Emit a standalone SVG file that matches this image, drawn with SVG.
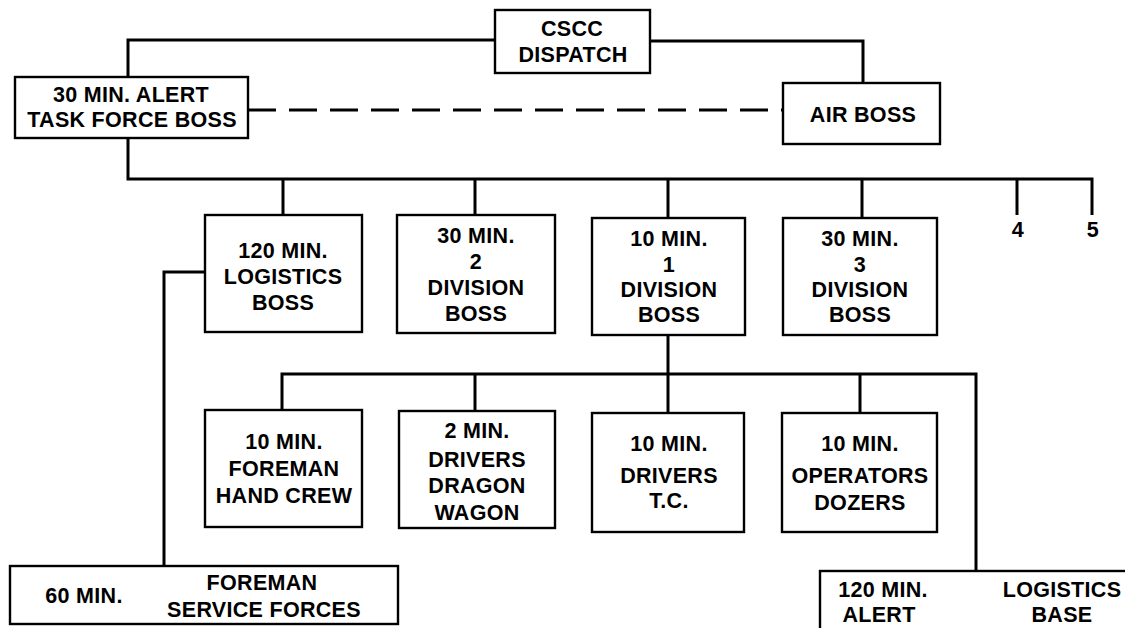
<svg xmlns="http://www.w3.org/2000/svg" width="1125" height="628" viewBox="0 0 1125 628">
<style>
.box{fill:#fff;stroke:#000;stroke-width:2.4}
.ln{fill:none;stroke:#000;stroke-width:3;stroke-linejoin:miter}
.dash{fill:none;stroke:#000;stroke-width:3;stroke-dasharray:28 13}
text{font-family:"Liberation Sans",Arial,sans-serif;font-size:21.5px;font-weight:bold;letter-spacing:0.3px;text-anchor:middle;fill:#000}
</style>
<rect width="1125" height="628" fill="#fff"/>
<g id="connectors">
<polyline class="ln" points="495,40 128,40 128,77"/>
<polyline class="ln" points="650,41 863,41 863,83"/>
<path class="dash" d="M248,110 H783"/>
<polyline class="ln" points="128,138 128,179 1092,179 1092,215"/>
<line class="ln" x1="283" y1="179" x2="283" y2="215"/>
<line class="ln" x1="475" y1="179" x2="475" y2="215"/>
<line class="ln" x1="668" y1="179" x2="668" y2="218"/>
<line class="ln" x1="862" y1="179" x2="862" y2="218"/>
<line class="ln" x1="1017" y1="179" x2="1017" y2="215"/>
<polyline class="ln" points="205,272 164,272 164,566"/>
<line class="ln" x1="668" y1="335" x2="668" y2="413"/>
<polyline class="ln" points="282,410 282,374 976,374 976,571"/>
<line class="ln" x1="475" y1="374" x2="475" y2="411"/>
<line class="ln" x1="860" y1="374" x2="860" y2="413"/>
</g>
<g id="cscc">
<rect class="box" x="495" y="10" width="155" height="63"/>
<text x="572" y="36">CSCC</text>
<text x="573" y="62">DISPATCH</text>
</g>
<g id="taskforce">
<rect class="box" x="15" y="77" width="233" height="61"/>
<text x="131" y="102">30 MIN. ALERT</text>
<text x="132" y="127">TASK FORCE BOSS</text>
</g>
<g id="airboss">
<rect class="box" x="783" y="83" width="157" height="61"/>
<text x="863" y="122">AIR BOSS</text>
</g>
<g id="logistics">
<rect class="box" x="205" y="215" width="157" height="117"/>
<text x="283" y="258">120 MIN.</text>
<text x="283" y="284">LOGISTICS</text>
<text x="283" y="310">BOSS</text>
</g>
<g id="div2">
<rect class="box" x="397" y="215" width="158" height="118"/>
<text x="476" y="243">30 MIN.</text>
<text x="476" y="269">2</text>
<text x="476" y="295">DIVISION</text>
<text x="476" y="321">BOSS</text>
</g>
<g id="div1">
<rect class="box" x="592" y="218" width="153" height="117"/>
<text x="669" y="246">10 MIN.</text>
<text x="669" y="272">1</text>
<text x="669" y="297">DIVISION</text>
<text x="669" y="322">BOSS</text>
</g>
<g id="div3">
<rect class="box" x="783" y="218" width="154" height="117"/>
<text x="860" y="246">30 MIN.</text>
<text x="860" y="272">3</text>
<text x="860" y="297">DIVISION</text>
<text x="860" y="322">BOSS</text>
</g>
<g id="div4"><text x="1018" y="237">4</text></g>
<g id="div5"><text x="1093" y="237">5</text></g>
<g id="handcrew">
<rect class="box" x="205" y="410" width="157" height="117"/>
<text x="284" y="449">10 MIN.</text>
<text x="284" y="476">FOREMAN</text>
<text x="284" y="503">HAND CREW</text>
</g>
<g id="dragon">
<rect class="box" x="399" y="411" width="156" height="117"/>
<text x="477" y="438">2 MIN.</text>
<text x="477" y="467">DRIVERS</text>
<text x="477" y="493">DRAGON</text>
<text x="477" y="520">WAGON</text>
</g>
<g id="tc">
<rect class="box" x="592" y="413" width="152" height="119"/>
<text x="669" y="451">10 MIN.</text>
<text x="669" y="483">DRIVERS</text>
<text x="669" y="508">T.C.</text>
</g>
<g id="dozers">
<rect class="box" x="782" y="413" width="155" height="119"/>
<text x="860" y="451">10 MIN.</text>
<text x="860" y="483">OPERATORS</text>
<text x="860" y="510">DOZERS</text>
</g>
<g id="serviceforces">
<rect class="box" x="10" y="566" width="388" height="58"/>
<text x="84" y="603">60 MIN.</text>
<text x="262" y="590">FOREMAN</text>
<text x="264" y="617">SERVICE FORCES</text>
</g>
<g id="logisticsbase">
<rect class="box" x="820" y="571" width="330" height="80"/>
<text x="883" y="597">120 MIN.</text>
<text x="879" y="622">ALERT</text>
<text x="1062" y="597">LOGISTICS</text>
<text x="1062" y="622">BASE</text>
</g>
</svg>
